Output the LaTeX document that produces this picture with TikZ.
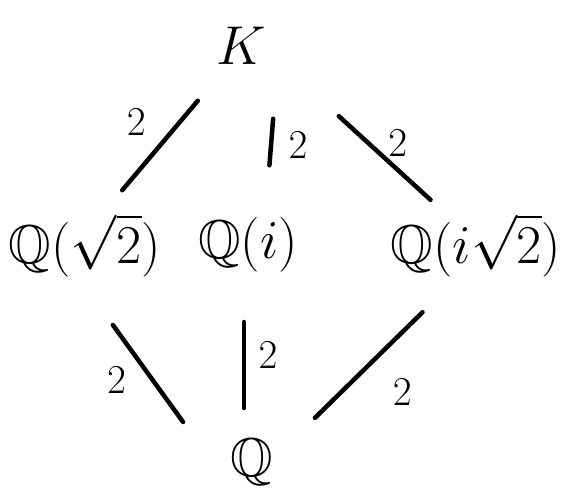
\documentclass[tikz,border=0pt]{standalone}
\usepackage{amsmath,amssymb}
\begin{document}
\begin{tikzpicture}[x=1pt,y=-1pt,
  field/.style={inner sep=1pt,font=\Huge,scale=2.2},
  deg/.style={inner sep=1pt,font=\Huge,scale=1.65},
  ext/.style={line width=4.5pt,line cap=round}]
\useasboundingbox (0,0) rectangle (572,499);
\node[field] (K) at (241,46) {$K$};
\node[field] (Q2) at (85,245) {$\mathbb{Q}(\sqrt{2})$};
\node[field] (Qi) at (248,245) {$\mathbb{Q}(i)$};
\node[field] (Qi2) at (476,245) {$\mathbb{Q}(i\sqrt{2})$};
\node[field] (Q) at (252,462) {$\mathbb{Q}$};
\draw[ext,shorten <=71.7pt,shorten >=71.7pt] ([xshift=3pt]K.center) -- ([xshift=-9pt]Q2.center)
  node[pos=0.385,xshift=-43pt,deg] {$2$};
\draw[ext,shorten <=73pt,shorten >=80pt] ([xshift=38pt]K.center) -- ([xshift=15pt]Qi.center)
  node[pos=0.5,xshift=27pt,deg] {$2$};
\draw[ext,shorten <=104pt,shorten >=67pt] ([xshift=21pt]K.center) -- ([xshift=4pt]Qi2.center)
  node[pos=0.49,xshift=29pt,deg] {$2$};
\draw[ext,shorten <=98.7pt,shorten >=49.4pt] ([xshift=-30pt]Q2.center) -- ([xshift=-40pt]Q.center)
  node[pos=0.622,xshift=-36pt,deg] {$2$};
\draw[ext,shorten <=77pt,shorten >=54pt] ([xshift=-4pt]Qi.center) -- ([xshift=-8pt]Q.center)
  node[pos=0.507,xshift=24pt,deg] {$2$};
\draw[ext,shorten <=96pt,shorten >=63pt] ([xshift=15pt]Qi2.center) -- ([xshift=18pt]Q.center)
  node[pos=0.677,xshift=61pt,deg] {$2$};
\end{tikzpicture}
\end{document}
